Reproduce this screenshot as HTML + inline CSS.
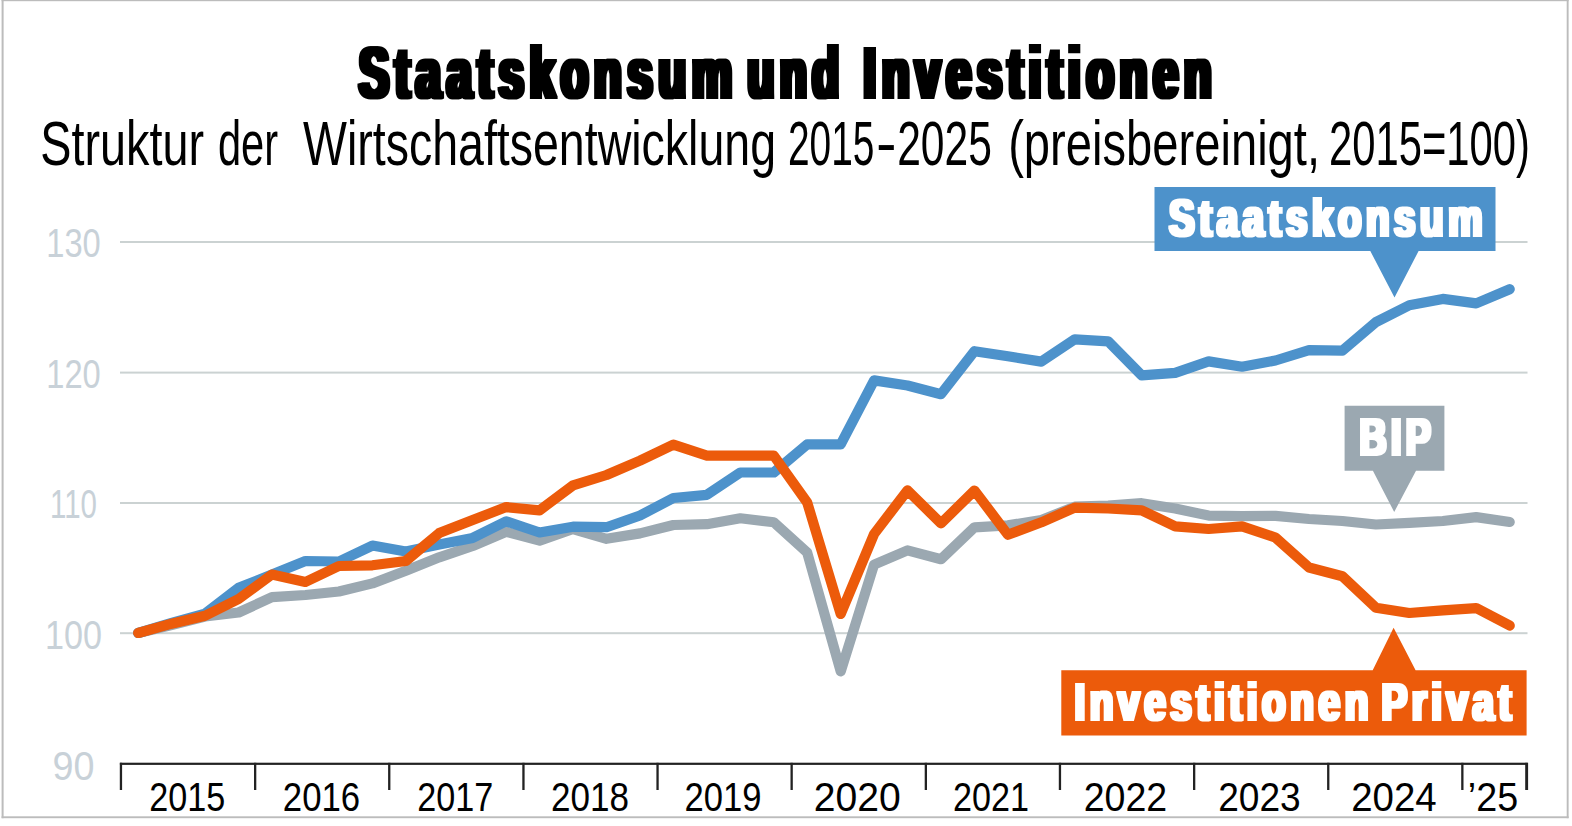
<!DOCTYPE html>
<html lang="de"><head><meta charset="utf-8"><title>Staatskonsum und Investitionen</title>
<style>
html,body{margin:0;padding:0;background:#fff;}
svg{display:block;}
text{font-family:"Liberation Sans",sans-serif;}
.b{font-weight:bold;}
</style></head><body>
<svg width="1572" height="826" viewBox="0 0 1572 826">
<defs>
<filter id="fat" x="-5%" y="-20%" width="110%" height="140%"><feMorphology operator="dilate" radius="3 1"/></filter>
<filter id="fat2" x="-5%" y="-20%" width="110%" height="140%"><feMorphology operator="dilate" radius="2 1"/></filter>
</defs>
<rect width="1572" height="826" fill="#fff"/>
<g fill="#bcbcbc"><rect x="1.6" y="0" width="1567" height="1.2"/><rect x="1.6" y="0" width="2" height="818.2"/><rect x="1566.7" y="0" width="1.9" height="818.2"/><rect x="1.6" y="816.3" width="1567" height="1.9"/></g>
<rect x="120" y="241.0" width="1407.5" height="2" fill="#cbd2d2"/>
<rect x="120" y="371.6" width="1407.5" height="2" fill="#cbd2d2"/>
<rect x="120" y="502.0" width="1407.5" height="2" fill="#cbd2d2"/>
<rect x="120" y="632.2" width="1407.5" height="2" fill="#cbd2d2"/>
<g filter="url(#fat)">
<text x="359" y="97.9" font-size="72.5" textLength="378.9" lengthAdjust="spacingAndGlyphs" fill="#000" class="b" letter-spacing="9.5">Staatskonsum</text>
<text x="747.5" y="97.9" font-size="72.5" textLength="97.3" lengthAdjust="spacingAndGlyphs" fill="#000" class="b" letter-spacing="9.5">und</text>
<text x="863.5" y="97.9" font-size="72.5" textLength="353.9" lengthAdjust="spacingAndGlyphs" fill="#000" class="b" letter-spacing="9.5">Investitionen</text>
</g>
<text x="40.35" y="165.2" font-size="62.2" textLength="163.7" lengthAdjust="spacingAndGlyphs" fill="#000">Struktur</text>
<text x="217.9" y="165.2" font-size="62.2" textLength="60.1" lengthAdjust="spacingAndGlyphs" fill="#000">der</text>
<text x="303" y="165.2" font-size="62.2" textLength="473" lengthAdjust="spacingAndGlyphs" fill="#000">Wirtschaftsentwicklung</text>
<text font-size="62.2" fill="#000"><tspan x="788" y="165.2" textLength="86.4" lengthAdjust="spacingAndGlyphs">2015</tspan><tspan x="876" y="164.0" textLength="20.6" lengthAdjust="spacingAndGlyphs">-</tspan><tspan x="897.2" y="165.2" textLength="94.7" lengthAdjust="spacingAndGlyphs">2025</tspan></text>
<text x="1008.15" y="165.2" font-size="62.2" textLength="311.9" lengthAdjust="spacingAndGlyphs" fill="#000">(preisbereinigt,</text>
<text x="1328.95" y="165.2" font-size="62.2" textLength="201.1" lengthAdjust="spacingAndGlyphs" fill="#000">2015=100)</text>
<text x="73.5" y="256.9" font-size="41.5" text-anchor="middle" textLength="54.5" lengthAdjust="spacingAndGlyphs" fill="#c8d1d8">130</text>
<text x="73.5" y="388.2" font-size="41.5" text-anchor="middle" textLength="54.5" lengthAdjust="spacingAndGlyphs" fill="#c8d1d8">120</text>
<text x="73.5" y="517.9" font-size="41.5" text-anchor="middle" textLength="47" lengthAdjust="spacingAndGlyphs" fill="#c8d1d8">110</text>
<text x="73.5" y="648.8" font-size="41.5" text-anchor="middle" textLength="57" lengthAdjust="spacingAndGlyphs" fill="#c8d1d8">100</text>
<text x="73.5" y="779.9" font-size="41.5" text-anchor="middle" textLength="42" lengthAdjust="spacingAndGlyphs" fill="#c8d1d8">90</text>
<path d="M138.2,633.0 L171.6,625.0 L205.1,616.5 L238.6,612.5 L272.0,597.2 L305.4,595.0 L338.9,591.5 L372.4,583.4 L405.8,570.8 L439.2,557.3 L472.7,546.0 L506.2,531.7 L539.6,540.6 L573.0,529.0 L606.5,538.8 L640.0,533.4 L673.4,525.0 L706.9,524.2 L740.3,518.3 L773.8,522.2 L807.2,552.6 L840.7,671.4 L874.1,564.6 L907.5,550.4 L941.0,559.2 L974.5,527.3 L1007.9,525.4 L1041.4,520.0 L1074.8,506.7 L1108.2,505.5 L1141.7,503.2 L1175.2,508.5 L1208.6,515.6 L1242.1,516.2 L1275.5,515.8 L1309.0,519.0 L1342.4,521.0 L1375.9,524.5 L1409.3,522.9 L1442.8,521.0 L1476.2,517.1 L1509.7,522.0" fill="none" stroke="#9ba8b1" stroke-width="10.2" stroke-linejoin="round" stroke-linecap="round"/>
<path d="M138.2,633.0 L171.6,623.0 L205.1,613.6 L238.6,587.7 L272.0,574.6 L305.4,561.0 L338.9,561.5 L372.4,545.6 L405.8,551.5 L439.2,544.5 L472.7,537.9 L506.2,521.3 L539.6,532.5 L573.0,526.7 L606.5,527.2 L640.0,515.5 L673.4,498.0 L706.9,494.8 L740.3,472.5 L773.8,472.5 L807.2,444.3 L840.7,444.3 L874.1,380.4 L907.5,385.5 L941.0,394.2 L974.5,351.2 L1007.9,356.3 L1041.4,361.6 L1074.8,339.3 L1108.2,341.3 L1141.7,375.3 L1175.2,372.9 L1208.6,361.4 L1242.1,366.7 L1275.5,360.5 L1309.0,350.1 L1342.4,350.7 L1375.9,322.1 L1409.3,305.3 L1442.8,298.9 L1476.2,303.4 L1509.7,289.2" fill="none" stroke="#4d92cb" stroke-width="10.2" stroke-linejoin="round" stroke-linecap="round"/>
<path d="M138.2,633.0 L171.6,623.7 L205.1,615.7 L238.6,599.0 L272.0,574.5 L305.4,582.0 L338.9,566.0 L372.4,565.3 L405.8,561.0 L439.2,533.1 L472.7,520.0 L506.2,507.1 L539.6,510.3 L573.0,485.3 L606.5,475.0 L640.0,460.6 L673.4,444.6 L706.9,455.6 L740.3,455.6 L773.8,455.6 L807.2,502.5 L840.7,614.0 L874.1,534.0 L907.5,490.3 L941.0,523.4 L974.5,490.5 L1007.9,534.7 L1041.4,522.3 L1074.8,507.6 L1108.2,508.5 L1141.7,510.3 L1175.2,526.3 L1208.6,529.0 L1242.1,526.3 L1275.5,537.6 L1309.0,567.5 L1342.4,576.2 L1375.9,607.7 L1409.3,613.0 L1442.8,610.4 L1476.2,608.1 L1509.7,625.6" fill="none" stroke="#ec5b0b" stroke-width="10.2" stroke-linejoin="round" stroke-linecap="round"/>
<path d="M1154.5,187H1495.5V251H1418.6L1394.5,297.5L1370.3,251H1154.5Z" fill="#4d92cb"/>
<path d="M1344.6,405.7H1444.4V470.8H1416L1394.2,512L1372.9,470.8H1344.6Z" fill="#9ba8b1"/>
<path d="M1061.3,670.2H1372.7L1393.6,627.8L1415.6,670.2H1526.6V735.4H1061.3Z" fill="#ec5b0b"/>
<g filter="url(#fat2)" fill="#fff">
<text x="1169" y="236.4" font-size="51" textLength="318" lengthAdjust="spacingAndGlyphs" fill="#fff" class="b" letter-spacing="6">Staatskonsum</text>
<text x="1359.5" y="455.0" font-size="52.7" textLength="75.5" lengthAdjust="spacingAndGlyphs" fill="#fff" class="b" letter-spacing="6">BIP</text>
<text x="1074.5" y="719.5" font-size="51" textLength="298.5" lengthAdjust="spacingAndGlyphs" fill="#fff" class="b" letter-spacing="6">Investitionen</text>
<text x="1381.5" y="719.5" font-size="51" textLength="134.5" lengthAdjust="spacingAndGlyphs" fill="#fff" class="b" letter-spacing="6">Privat</text>
</g>
<g fill="#222"><rect x="119.9" y="762.7" width="1407.8" height="2.2"/><rect x="119.8" y="762.8" width="2.3" height="27.2"/><rect x="254.0" y="762.8" width="2.3" height="27.2"/><rect x="388.1" y="762.8" width="2.3" height="27.2"/><rect x="522.3" y="762.8" width="2.3" height="27.2"/><rect x="656.4" y="762.8" width="2.3" height="27.2"/><rect x="790.5" y="762.8" width="2.3" height="27.2"/><rect x="924.7" y="762.8" width="2.3" height="27.2"/><rect x="1058.8" y="762.8" width="2.3" height="27.2"/><rect x="1193.0" y="762.8" width="2.3" height="27.2"/><rect x="1327.1" y="762.8" width="2.3" height="27.2"/><rect x="1461.2" y="762.8" width="2.3" height="27.2"/><rect x="1525.2" y="762.8" width="2.9" height="27.2"/></g>
<text x="187.3" y="810.6" font-size="40.6" text-anchor="middle" textLength="76" lengthAdjust="spacingAndGlyphs" fill="#000">2015</text>
<text x="321.5" y="810.6" font-size="40.6" text-anchor="middle" textLength="77.3" lengthAdjust="spacingAndGlyphs" fill="#000">2016</text>
<text x="455.3" y="810.6" font-size="40.6" text-anchor="middle" textLength="76" lengthAdjust="spacingAndGlyphs" fill="#000">2017</text>
<text x="589.9" y="810.6" font-size="40.6" text-anchor="middle" textLength="78" lengthAdjust="spacingAndGlyphs" fill="#000">2018</text>
<text x="722.9" y="810.6" font-size="40.6" text-anchor="middle" textLength="77" lengthAdjust="spacingAndGlyphs" fill="#000">2019</text>
<text x="857.3" y="810.6" font-size="40.6" text-anchor="middle" textLength="87" lengthAdjust="spacingAndGlyphs" fill="#000">2020</text>
<text x="990.9" y="810.6" font-size="40.6" text-anchor="middle" textLength="76" lengthAdjust="spacingAndGlyphs" fill="#000">2021</text>
<text x="1125.5" y="810.6" font-size="40.6" text-anchor="middle" textLength="83.5" lengthAdjust="spacingAndGlyphs" fill="#000">2022</text>
<text x="1259.5" y="810.6" font-size="40.6" text-anchor="middle" textLength="82.5" lengthAdjust="spacingAndGlyphs" fill="#000">2023</text>
<text x="1394.0" y="810.6" font-size="40.6" text-anchor="middle" textLength="85.5" lengthAdjust="spacingAndGlyphs" fill="#000">2024</text>
<text x="1467.8" y="810.6" font-size="40.6" textLength="50.3" lengthAdjust="spacingAndGlyphs" fill="#000">’25</text>
</svg>
</body></html>
